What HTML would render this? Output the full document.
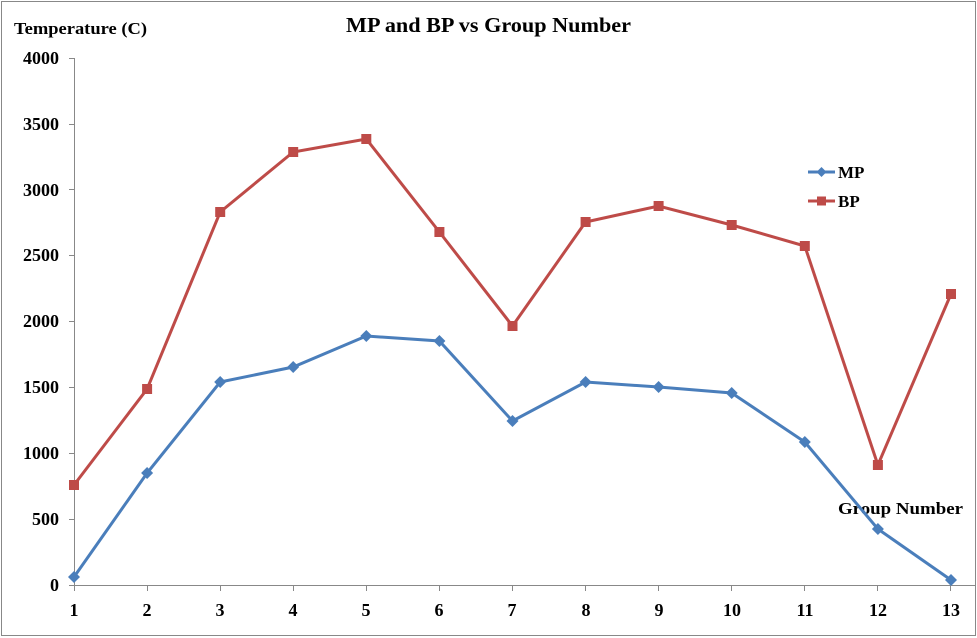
<!DOCTYPE html>
<html><head><meta charset="utf-8"><style>
html,body{margin:0;padding:0;background:#fff}
svg{display:block}
text{font-family:"Liberation Serif",serif;font-weight:bold;fill:#000}
</style></head><body>
<svg width="977" height="638" viewBox="0 0 977 638" xmlns="http://www.w3.org/2000/svg">
<rect x="1.5" y="1.5" width="974" height="634" fill="#fff" stroke="#888" stroke-width="1"/>
<text x="346" y="32" font-size="21" textLength="285" lengthAdjust="spacingAndGlyphs">MP and BP vs Group Number</text>
<text x="14" y="34" font-size="17" textLength="133" lengthAdjust="spacingAndGlyphs">Temperature (C)</text>
<text x="838" y="514" font-size="17" textLength="125" lengthAdjust="spacingAndGlyphs">Group Number</text>
<g stroke="#888" stroke-width="1">
<line x1="74.5" y1="58" x2="74.5" y2="585"/>
<line x1="74" y1="585.5" x2="975" y2="585.5"/>
<line x1="69" y1="585.5" x2="74" y2="585.5"/>
<line x1="69" y1="519.5" x2="74" y2="519.5"/>
<line x1="69" y1="453.5" x2="74" y2="453.5"/>
<line x1="69" y1="387.5" x2="74" y2="387.5"/>
<line x1="69" y1="321.5" x2="74" y2="321.5"/>
<line x1="69" y1="255.5" x2="74" y2="255.5"/>
<line x1="69" y1="189.5" x2="74" y2="189.5"/>
<line x1="69" y1="124.5" x2="74" y2="124.5"/>
<line x1="69" y1="58.5" x2="74" y2="58.5"/>
<line x1="74.5" y1="585" x2="74.5" y2="591"/>
<line x1="147.5" y1="585" x2="147.5" y2="591"/>
<line x1="220.5" y1="585" x2="220.5" y2="591"/>
<line x1="293.5" y1="585" x2="293.5" y2="591"/>
<line x1="366.5" y1="585" x2="366.5" y2="591"/>
<line x1="439.5" y1="585" x2="439.5" y2="591"/>
<line x1="512.5" y1="585" x2="512.5" y2="591"/>
<line x1="585.5" y1="585" x2="585.5" y2="591"/>
<line x1="658.5" y1="585" x2="658.5" y2="591"/>
<line x1="731.5" y1="585" x2="731.5" y2="591"/>
<line x1="804.5" y1="585" x2="804.5" y2="591"/>
<line x1="877.5" y1="585" x2="877.5" y2="591"/>
<line x1="950.5" y1="585" x2="950.5" y2="591"/>
</g>
<g font-size="18" text-anchor="end">
<text x="59" y="591">0</text>
<text x="59" y="525">500</text>
<text x="59" y="459">1000</text>
<text x="59" y="393">1500</text>
<text x="59" y="327">2000</text>
<text x="59" y="261">2500</text>
<text x="59" y="196">3000</text>
<text x="59" y="130">3500</text>
<text x="59" y="64">4000</text>
</g>
<g font-size="18" text-anchor="middle">
<text x="74" y="616">1</text><text x="147" y="616">2</text><text x="220" y="616">3</text>
<text x="293" y="616">4</text><text x="366" y="616">5</text><text x="439" y="616">6</text>
<text x="512" y="616">7</text><text x="586" y="616">8</text><text x="659" y="616">9</text>
<text x="732" y="616">10</text><text x="805" y="616">11</text><text x="878" y="616">12</text>
<text x="951" y="616">13</text>
</g>
<polyline fill="none" stroke="#be4b48" stroke-width="3" points="74,485 147.1,389 220.2,212 293.2,152 366.3,139 439.4,232 512.5,326 585.6,222 658.6,206 731.7,225 804.8,246 877.9,465 951,294"/>
<g fill="#be4b48">
<rect x="69" y="480" width="10" height="10"/><rect x="142.1" y="384" width="10" height="10"/><rect x="215.2" y="207" width="10" height="10"/>
<rect x="288.2" y="147" width="10" height="10"/><rect x="361.3" y="134" width="10" height="10"/><rect x="434.4" y="227" width="10" height="10"/>
<rect x="507.5" y="321" width="10" height="10"/><rect x="580.6" y="217" width="10" height="10"/><rect x="653.6" y="201" width="10" height="10"/>
<rect x="726.7" y="220" width="10" height="10"/><rect x="799.8" y="241" width="10" height="10"/><rect x="872.9" y="460" width="10" height="10"/>
<rect x="946" y="289" width="10" height="10"/>
</g>
<polyline fill="none" stroke="#4a7ebb" stroke-width="3" points="74,577 147.1,473 220.2,382 293.2,367 366.3,336 439.4,341 512.5,421 585.6,382 658.6,387 731.7,393 804.8,442 877.9,529 951,580"/>
<g fill="#4a7ebb">
<path d="M74 571l6 6-6 6-6-6z"/><path d="M147.1 467l6 6-6 6-6-6z"/><path d="M220.2 376l6 6-6 6-6-6z"/>
<path d="M293.2 361l6 6-6 6-6-6z"/><path d="M366.3 330l6 6-6 6-6-6z"/><path d="M439.4 335l6 6-6 6-6-6z"/>
<path d="M512.5 415l6 6-6 6-6-6z"/><path d="M585.6 376l6 6-6 6-6-6z"/><path d="M658.6 381l6 6-6 6-6-6z"/>
<path d="M731.7 387l6 6-6 6-6-6z"/><path d="M804.8 436l6 6-6 6-6-6z"/><path d="M877.9 523l6 6-6 6-6-6z"/>
<path d="M951 574l6 6-6 6-6-6z"/>
</g>
<line x1="808" y1="172" x2="835" y2="172" stroke="#4a7ebb" stroke-width="3"/>
<path d="M821.5 167l5 5-5 5-5-5z" fill="#4a7ebb"/>
<line x1="808" y1="201" x2="835" y2="201" stroke="#be4b48" stroke-width="3"/>
<rect x="817" y="196.5" width="9" height="9" fill="#be4b48"/>
<text x="838" y="178" font-size="17">MP</text>
<text x="838" y="207" font-size="17">BP</text>
</svg>
</body></html>
